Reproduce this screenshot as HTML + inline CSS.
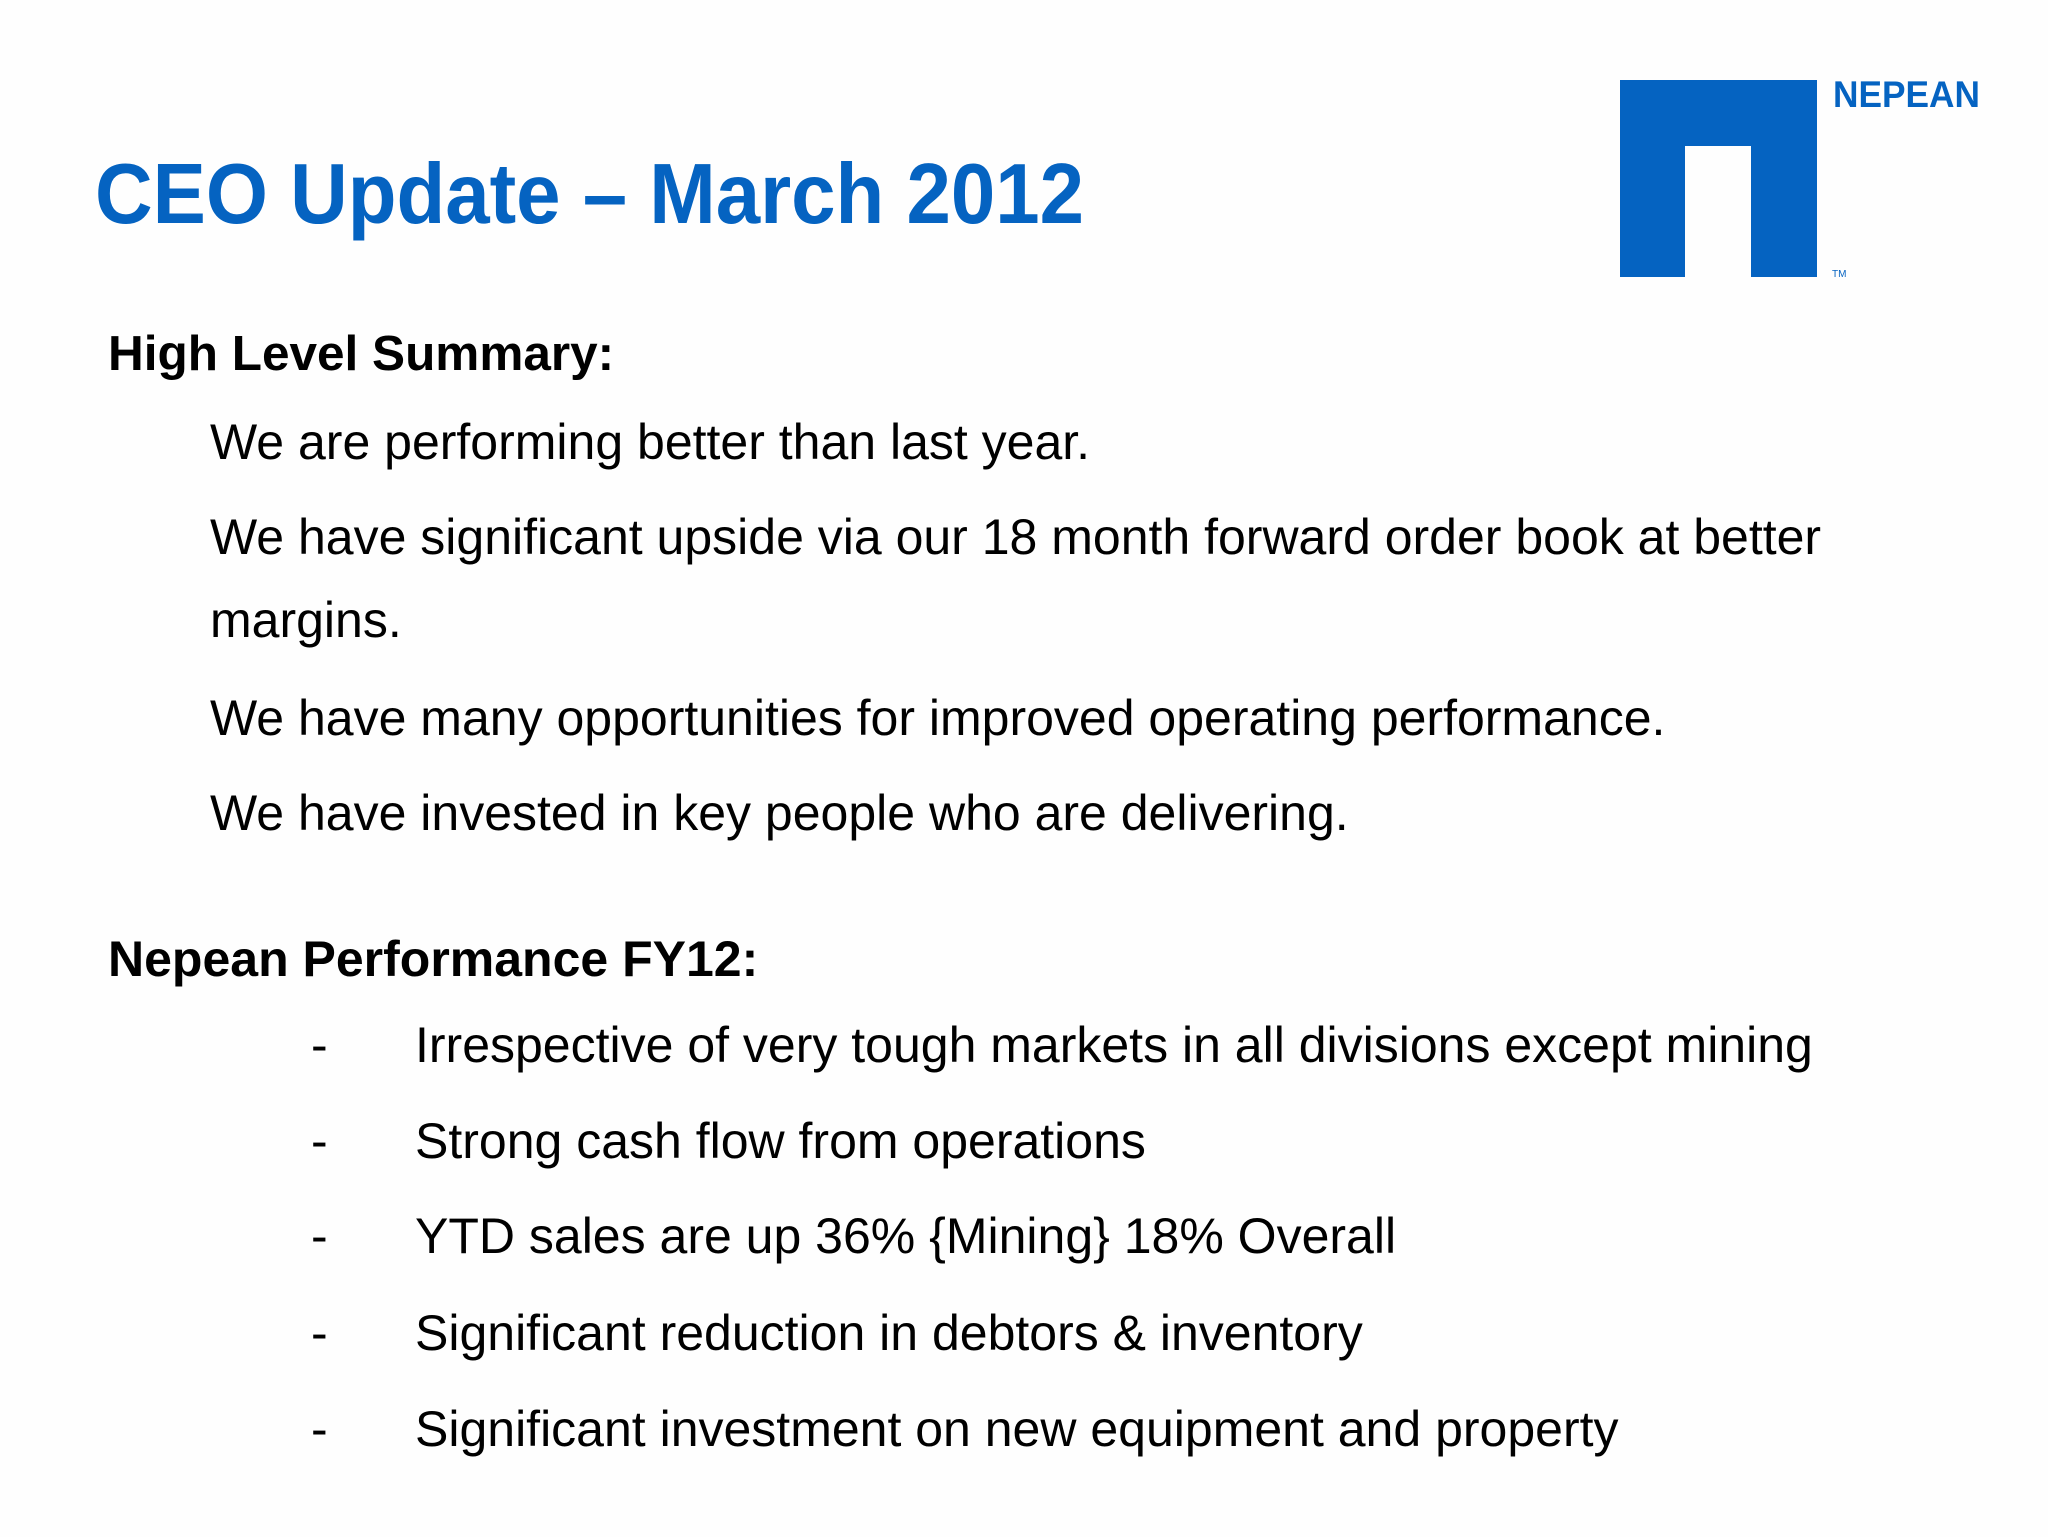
<!DOCTYPE html>
<html><head><meta charset="utf-8"><style>
html,body{margin:0;padding:0;background:#fff;}
svg{display:block;}
text{font-family:"Liberation Sans",Arial,sans-serif;}
</style></head><body>
<svg width="2048" height="1537" viewBox="0 0 2048 1537">
<rect x="0" y="0" width="2048" height="1537" fill="#fefefe"/>
<text x="95" y="223" font-size="85" font-weight="bold" fill="#0563c1" textLength="989" lengthAdjust="spacingAndGlyphs">CEO Update – March 2012</text>
<g>
<path d="M1620 80 H1817 V277 H1751 V146 H1685 V277 H1620 Z" fill="#0563c1"/>
<text x="1833" y="107" font-size="37" font-weight="bold" fill="#0563c1" textLength="147" lengthAdjust="spacingAndGlyphs">NEPEAN</text>
<text x="1832" y="277" font-size="10" fill="#0563c1">TM</text>
</g>
<text x="108" y="370" font-size="49.5" font-weight="bold" fill="#000">High Level Summary:</text>
<g font-size="50" fill="#000">
<text x="210" y="459">We are performing better than last year.</text>
<text x="210" y="554">We have significant upside via our 18 month forward order book at better</text>
<text x="210" y="637">margins.</text>
<text x="210" y="735">We have many opportunities for improved operating performance.</text>
<text x="210" y="830">We have invested in key people who are delivering.</text>
</g>
<text x="108" y="976" font-size="50" font-weight="bold" fill="#000">Nepean Performance FY12:</text>
<g font-size="50" fill="#000">
<text x="311" y="1062">-</text>
<text x="415" y="1062">Irrespective of very tough markets in all divisions except mining</text>
<text x="311" y="1158">-</text>
<text x="415" y="1158">Strong cash flow from operations</text>
<text x="311" y="1253">-</text>
<text x="415" y="1253">YTD sales are up 36% {Mining} 18% Overall</text>
<text x="311" y="1350">-</text>
<text x="415" y="1350">Significant reduction in debtors &amp; inventory</text>
<text x="311" y="1446">-</text>
<text x="415" y="1446">Significant investment on new equipment and property</text>
</g>
</svg>
</body></html>
